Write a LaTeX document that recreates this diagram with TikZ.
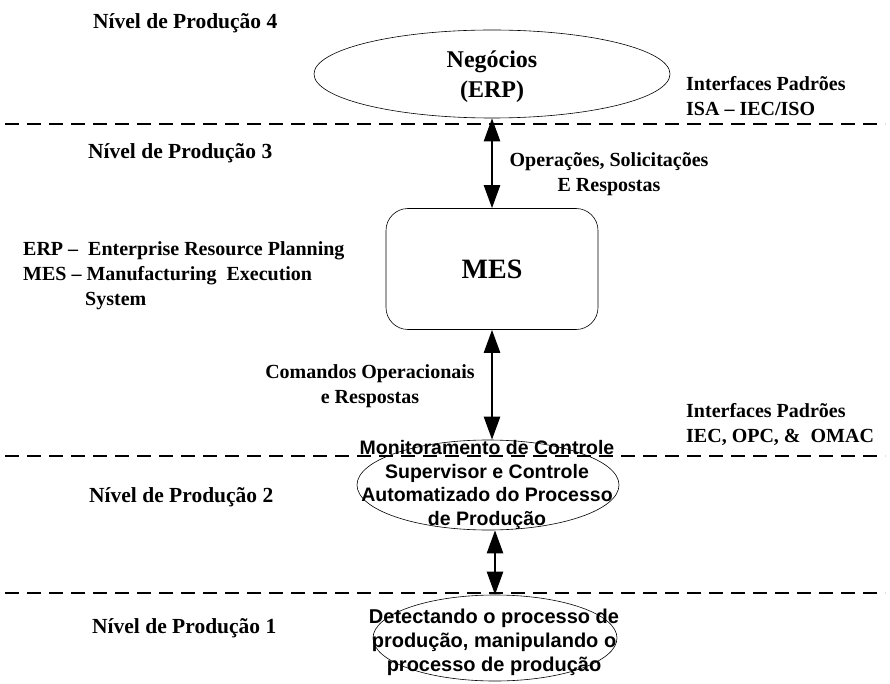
\documentclass[tikz,border=0pt]{standalone}
\usepackage{fontspec}
\setmainfont{Liberation Serif}
\newfontfamily\arialfont{Liberation Sans}
\usetikzlibrary{arrows.meta,shapes.geometric}
\begin{document}
\begin{tikzpicture}[x=1pt,y=-1pt,
  lbl/.style={font=\fontsize{20}{25}\selectfont\bfseries, inner sep=0pt},
  sanslbl/.style={font=\arialfont\fontsize{19.5}{23.5}\selectfont\bfseries, align=center, inner sep=0pt},
  level/.style={font=\fontsize{21.5}{26}\selectfont\bfseries, inner sep=0pt, anchor=west},
  sep/.style={dashed, dash pattern=on 14pt off 8pt, line width=1.2pt},
  oval/.style={draw, ellipse, line width=0.6pt, inner sep=0pt},
  dbl/.style={line width=2.4pt, {Triangle[length=23pt,width=16pt]}-{Triangle[length=23pt,width=16pt]}}
]
\useasboundingbox (0,0) rectangle (890,684);

% level separators
\draw[sep] (5,124) -- (885,124);
\draw[sep] (5,456) -- (885,456);
\draw[sep] (5,593) -- (885,593);

% level titles
\node[level] (l4) at (93,23) {Nível de Produção 4};
\node[level] (l3) at (88,153) {Nível de Produção 3};
\node[level] (l2) at (89,497) {Nível de Produção 2};
\node[level] (l1) at (92,628) {Nível de Produção 1};

% ERP ellipse
\node[oval, minimum width=356pt, minimum height=88pt] (erp) at (492,74) {};
\node[font=\fontsize{24}{30}\selectfont\bfseries, inner sep=0pt, align=center] (erpt) at (492,77) {Negócios\\(ERP)};

% MES box
\node[draw, rounded corners=22pt, line width=0.6pt, minimum width=212pt, minimum height=121pt,
      font=\fontsize{28}{32}\selectfont\bfseries] (mes) at (492,269) {MES};

% supervisory control ellipse
\node[oval, minimum width=262pt, minimum height=90pt] (sup) at (488,485) {};
\node[sanslbl] (supt) at (487,485) {Monitoramento de Controle\\Supervisor e Controle\\Automatizado do Processo\\de Produção};

% sensing ellipse
\node[oval, minimum width=244pt, minimum height=86pt] (sen) at (495,638) {};
\node[sanslbl, font=\arialfont\fontsize{20}{24}\selectfont\bfseries] (sent) at (494,642) {Detectando o processo de\\produção, manipulando o\\processo de produção};

% connectors
\draw[dbl] (erp.south) -- (erp.south |- mes.north);
\draw[dbl] (mes.south) -- (mes.south |- sup.north);
\draw[dbl] (sen.north |- sup.south) -- (sen.north);

% connector labels
\node[lbl, align=center] (opl) at (609,174) {Operações, Solicitações\\E Respostas};
\node[lbl, align=center] (cml) at (370,386) {Comandos Operacionais\\e Respostas};

% acronyms
\node[lbl, align=left, anchor=west] (acr) at (23,276) {ERP --\ \ Enterprise Resource Planning\\MES -- Manufacturing\ \ Execution\\\hspace{62pt}System};

% standard interfaces
\node[lbl, align=left, anchor=west] (if1) at (686,96) {Interfaces Padrões\\ISA -- IEC/ISO};
\node[lbl, align=left, anchor=west] (if2) at (686,425) {Interfaces Padrões\\IEC, OPC, \&\ \ OMAC};
\end{tikzpicture}
\end{document}
